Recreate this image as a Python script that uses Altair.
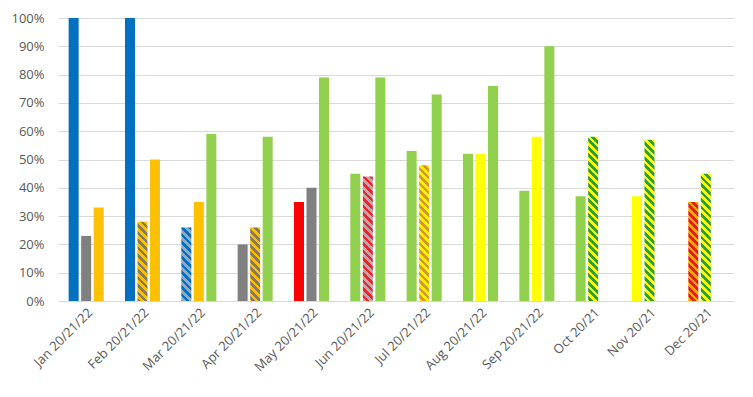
import altair as alt
import pandas as pd

months = ["Jan 20/21/22", "Feb 20/21/22", "Mar 20/21/22", "Apr 20/21/22",
          "May 20/21/22", "Jun 20/21/22", "Jul 20/21/22", "Aug 20/21/22",
          "Sep 20/21/22", "Oct 20/21", "Nov 20/21", "Dec 20/21"]
years = ["2020", "2021", "2022"]

values_2020 = [100, 100, 26, 20, 35, 45, 53, 52, 39, 37, 37, 35]
values_2021 = [23, 28, 35, 26, 40, 44, 48, 52, 58, 58, 57, 45]
values_2022 = [33, 50, 59, 58, 79, 79, 73, 76, 90, None, None, None]

status_2020 = ["blue", "blue", "blue/grey", "grey", "red", "green", "green",
               "green", "green", "green", "yellow", "red/amber"]
status_2021 = ["grey", "amber/grey", "amber", "amber/grey", "grey", "red/grey",
               "yellow/amber", "yellow", "yellow", "green/yellow",
               "green/yellow", "green/yellow"]
status_2022 = ["amber", "amber", "green", "green", "green", "green", "green",
               "green", "green", None, None, None]

solid_colors = {
    "blue": "#0070C0",
    "grey": "#808080",
    "amber": "#FFC000",
    "green": "#92D050",
    "red": "#FF0000",
    "yellow": "#FFFF00",
}
hatch_colors = {
    "blue/grey": ("#0070C0", "#8FA9C8"),
    "amber/grey": ("#FFC000", "#857A5F"),
    "red/grey": ("#E8262A", "#C4A4AC"),
    "yellow/amber": ("#FFF200", "#D8962A"),
    "green/yellow": ("#FFFF00", "#2DA02D"),
    "red/amber": ("#FFA500", "#E02010"),
}

rows = []
for yr, vals, stats in zip(years, [values_2020, values_2021, values_2022],
                           [status_2020, status_2021, status_2022]):
    for m, v, s in zip(months, vals, stats):
        if v is None:
            continue
        rows.append(dict(month=m, year=yr, value=v / 100, status=s))
df = pd.DataFrame(rows)

W, H = 676, 283
x_step = W / len(months)
band = x_step * (2 / 3)
sub_step = band / 3
bar_w = sub_step * 0.8


def stripe_gradient(value, c1, c2, period=7.5):
    w = bar_w
    h = max(value * H, 1.0)
    k = (w + h) / (w * w + h * h)
    total = w + h
    stops = []
    j = 0
    while True:
        for frac0, frac1, col in ((0.0, 0.5, c1), (0.5, 1.0, c2)):
            t0 = (j + frac0) * period / total
            t1 = (j + frac1) * period / total
            if t0 >= 1:
                break
            stops.append(alt.GradientStop(color=col, offset=round(t0, 5)))
            stops.append(alt.GradientStop(color=col, offset=round(min(t1, 1.0), 5)))
        if (j + 1) * period / total >= 1:
            break
        j += 1
    return alt.LinearGradient(
        gradient="linear", stops=stops,
        x1=1, y1=0, x2=round(1 - w * k, 5), y2=round(h * k, 5))


base = alt.Chart(df).encode(
    x=alt.X("month:N", sort=months,
            scale=alt.Scale(domain=months, paddingInner=1 / 3, paddingOuter=1 / 6),
            axis=alt.Axis(title=None, labelAngle=-45, ticks=False,
                          domainColor="#D9D9D9", domainWidth=1,
                          labelColor="#595959", labelFontSize=13,
                          labelFont="Open Sans", labelPadding=5)),
    xOffset=alt.XOffset("year:N",
                        scale=alt.Scale(domain=years, paddingInner=0.2, paddingOuter=0.1)),
    y=alt.Y("value:Q", scale=alt.Scale(domain=[0, 1]),
            axis=alt.Axis(title=None, format="%",
                          values=[i / 10 for i in range(11)],
                          ticks=False, domain=False, gridColor="#D9D9D9",
                          labelColor="#595959", labelFontSize=13,
                          labelFont="Open Sans", labelPadding=14,
                          minExtent=50, maxExtent=50)),
)

layers = [
    base.transform_filter(
        alt.FieldOneOfPredicate(field="status", oneOf=list(solid_colors))
    ).mark_bar().encode(
        color=alt.Color("status:N",
                        scale=alt.Scale(domain=list(solid_colors),
                                        range=list(solid_colors.values())),
                        legend=None)
    )
]

for r in rows:
    if r["status"] in hatch_colors:
        c1, c2 = hatch_colors[r["status"]]
        layers.append(
            base.transform_filter(
                (alt.datum.month == r["month"]) & (alt.datum.year == r["year"])
            ).mark_bar(fill=stripe_gradient(r["value"], c1, c2))
        )

chart = alt.layer(*layers).properties(
    width=W, height=H,
    padding={"left": 0, "top": 4, "right": 0, "bottom": 0},
).configure_view(stroke=None)

chart.save("out.html", embed_options={"renderer": "svg", "actions": False})
